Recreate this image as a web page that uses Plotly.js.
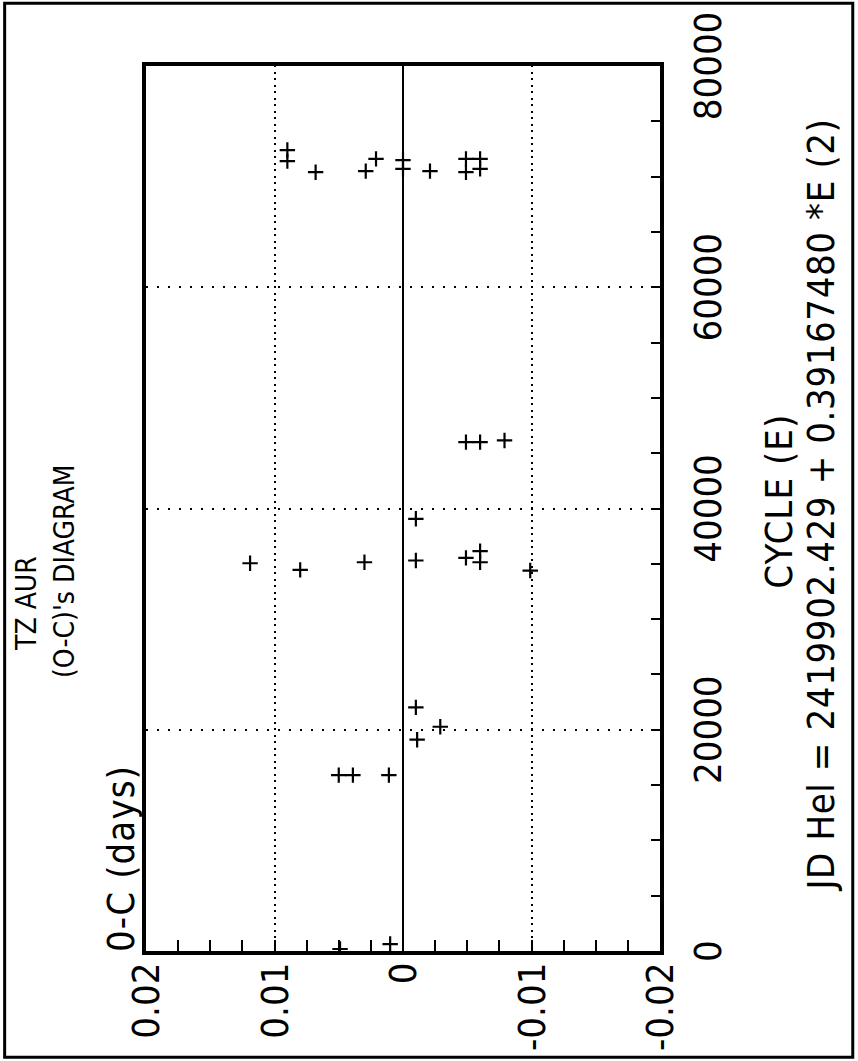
<!DOCTYPE html>
<html><head><meta charset="utf-8">
<script src="https://cdn.plot.ly/plotly-3.0.1.min.js"></script>
<style>
html,body{margin:0;padding:0;background:#fff;overflow:hidden;width:858px;height:1061px;}
#wrap{position:absolute;left:0;top:0;width:1061px;height:858px;transform-origin:0 0;transform:translate(0px,1061px) rotate(-90deg);}
#chart{width:1061px;height:858px;}
</style></head><body>
<div id="wrap"><div id="chart"></div></div>
<script>
// Observed cycle numbers (E) and O-C residuals (days)
const cycles = [
  72400, 71400, 70400, 70500, 71600, 71500, 70700, 70500, 71600, 70400, 71600, 70700,
  46000, 46000, 46150,
  35050, 34450, 35140, 39070, 35300, 35540, 36140, 35140, 34390,
  22020, 20270, 19100, 15900, 15900, 15900,
  630, 180
];
const ocDays = [
  0.0090, 0.0090, 0.0068, 0.0029, 0.0021, 0.0000, 0.0000, -0.0021, -0.0049, -0.0049, -0.0060, -0.0060,
  -0.0049, -0.0060, -0.0079,
  0.0119, 0.0080, 0.0030, -0.0010, -0.0010, -0.0049, -0.0060, -0.0060, -0.0099,
  -0.0010, -0.0029, -0.0011, 0.0050, 0.0039, 0.0011,
  0.0010, 0.0049
];
const cycleTicks = [0, 20000, 40000, 60000, 80000];
const cycleTickLabels = ['0', '20000', '40000', '60000', '80000'];
const ocTicks = [-0.02, -0.01, 0, 0.01, 0.02];
const ocTickLabels = ['-0.02', '-0.01', '0', '0.01', '0.02'];
const titleLines = ['TZ AUR', "(O-C)'s DIAGRAM"];
const xTitleLines = ['CYCLE (E)', 'JD Hel = 2419902.429 + 0.39167480 *E (2)'];
const yTitleText = '0-C (days)';

const FONT = '"Liberation Sans Narrow", "DejaVu Sans Condensed", sans-serif';

const trace = {
  type: 'scatter', mode: 'markers',
  x: cycles, y: ocDays,
  marker: {symbol: 'cross-thin', size: 11, color: '#000', line: {width: 2.2, color: '#000'}},
  hoverinfo: 'skip'
};

const axisCommon = {
  showline: true, linecolor: '#000', linewidth: 4, mirror: true,
  ticks: 'inside', tickcolor: '#000', tickwidth: 2,
  showgrid: true, gridcolor: '#000', gridwidth: 2,
  tickfont: {family: FONT, size: 38, color: '#000'},
  fixedrange: true
};

const layout = {
  width: 1061, height: 858,
  margin: {l: 110, r: 66, t: 146, b: 198, pad: 0},
  paper_bgcolor: '#fff', plot_bgcolor: '#fff',
  showlegend: false,
  font: {family: FONT, color: '#000', size: 38},
  xaxis: Object.assign({}, axisCommon, {
    range: [0, 80000], tickmode: 'array', tickvals: cycleTicks, ticktext: cycleTickLabels,
    ticklen: 9, griddash: '2px,9px', zeroline: false, ticklabelstandoff: 11,
    minor: {tickmode: 'linear', tick0: 0, dtick: 5000, ticks: 'inside', ticklen: 9, tickwidth: 2, tickcolor: '#000', showgrid: false}
  }),
  yaxis: Object.assign({}, axisCommon, {
    range: [-0.02, 0.02], tickmode: 'array', tickvals: ocTicks, ticktext: ocTickLabels,
    ticklen: 11, griddash: '2px,4.5px', ticklabelstandoff: 0,
    zeroline: true, zerolinecolor: '#000', zerolinewidth: 2,
    minor: {tickmode: 'linear', tick0: 0, dtick: 0.0025, ticks: 'inside', ticklen: 11, tickwidth: 2, tickcolor: '#000', showgrid: false}
  }),
  annotations: [
    {text: titleLines[0], xref: 'paper', yref: 'paper', x: 0.393, y: 1.232, xanchor: 'center', yanchor: 'middle', showarrow: false, font: {size: 28}},
    {text: titleLines[1], xref: 'paper', yref: 'paper', x: 0.429, y: 1.158, xanchor: 'center', yanchor: 'middle', showarrow: false, font: {size: 28}},
    {text: yTitleText, xref: 'paper', yref: 'paper', x: -0.003, y: 1.049, xanchor: 'left', align: 'left', yanchor: 'middle', showarrow: false, font: {size: 38}},
    {text: xTitleLines[0], xref: 'paper', yref: 'paper', x: 0.508, y: -0.232, xanchor: 'center', yanchor: 'middle', showarrow: false, font: {size: 38}},
    {text: xTitleLines[1], xref: 'paper', yref: 'paper', x: 0.504, y: -0.314, xanchor: 'center', yanchor: 'middle', showarrow: false, font: {size: 38}}
  ],
  shapes: [
    {type: 'rect', xref: 'paper', yref: 'paper', x0: -0.120, x1: 1.071, y0: -0.375, y1: 1.275,
     line: {color: '#000', width: 3}, fillcolor: 'rgba(0,0,0,0)', layer: 'above'}
  ]
};

// target text lengths (px) of the monospaced plotter lettering
const textWidths = {};
textWidths[titleLines[0]] = 75;
textWidths[titleLines[1]] = 183;
textWidths[yTitleText] = 187;
textWidths[xTitleLines[0]] = 175;
textWidths[xTitleLines[1]] = 771;

Plotly.newPlot('chart', [trace], layout, {staticPlot: true, displayModeBar: false}).then(function () {
  document.querySelectorAll('#chart .annotation-text').forEach(function (t) {
    const w = textWidths[t.textContent];
    if (!w) return;
    const len = t.getComputedTextLength();
    const n = t.textContent.length;
    const sp = (w - len) / n;
    if (sp > 0) t.style.letterSpacing = sp.toFixed(2) + 'px';
  });
});
</script>
</body></html>
